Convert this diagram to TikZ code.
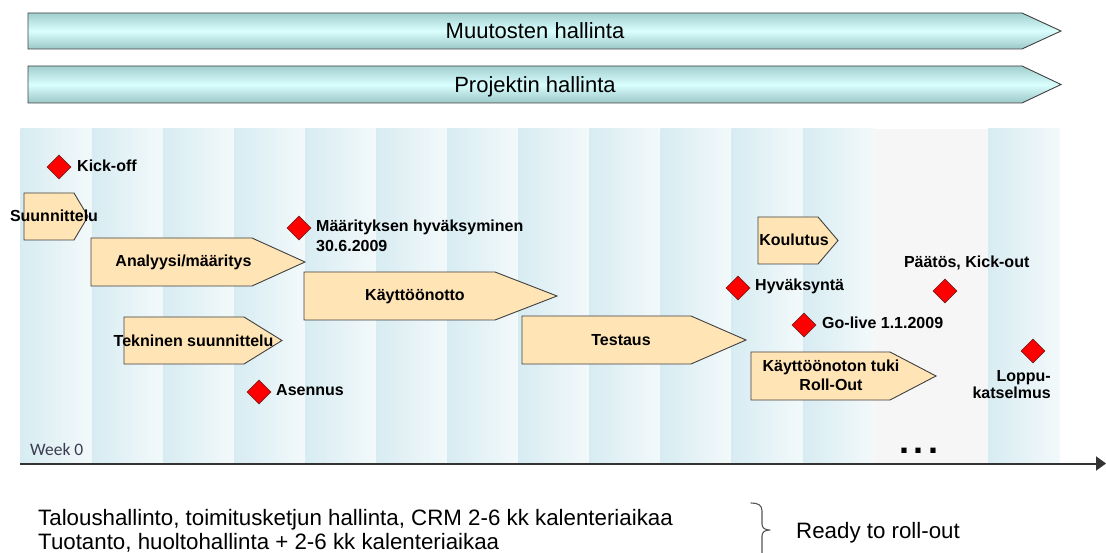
\documentclass[tikz,border=0pt]{standalone}
\usepackage{fontspec}
\setmainfont{Liberation Sans}
\newfontfamily\weekfont{Carlito}
\usetikzlibrary{arrows.meta,shapes.geometric}

\definecolor{phasefill}{HTML}{FFE4B5}
\definecolor{phaseline}{HTML}{404040}
\definecolor{stripeA}{HTML}{D7ECF2}
\definecolor{stripeB}{HTML}{F3F9FA}
\definecolor{lategray}{HTML}{F6F6F6}
\definecolor{bannerEdge}{HTML}{A2CFCF}
\definecolor{bannerLow}{HTML}{9CC8C8}
\definecolor{bannerMid}{HTML}{DAFEFE}
\definecolor{msred}{HTML}{FF0000}
\definecolor{msline}{HTML}{7A2020}
\definecolor{weekgray}{HTML}{3C3C50}
\definecolor{axisgray}{HTML}{333333}
\definecolor{bracegray}{HTML}{555555}

% phase arrow: left x, body end x, tip x, top y, bottom y
\newcommand\phasepath[5]{%
  \draw[phasebox] (#1,#4) -- (#2,#4) -- (#3,{(#4+#5)/2}) -- (#2,#5) -- (#1,#5) -- cycle;}

\begin{document}
\begin{tikzpicture}[x=1pt,y=-1pt,
  phasebox/.style={draw=phaseline, fill=phasefill, line width=0.9pt, line join=miter},
  banner/.style={draw=black!75, line width=0.9pt, top color=bannerEdge,
                 bottom color=bannerLow, middle color=bannerMid},
  stripe/.style={left color=stripeA, right color=stripeB},
  milestone/.style={diamond, aspect=1, minimum width=24pt, minimum height=24pt,
                    inner sep=0pt, fill=msred, draw=msline, line width=0.6pt},
  lbl/.style={font=\fontsize{16}{19}\selectfont\bfseries, inner sep=0pt},
  bigtxt/.style={font=\fontsize{22.3}{26}\selectfont, inner sep=0pt},
  bantxt/.style={font=\fontsize{22}{26}\selectfont, inner sep=0pt},
  axisline/.style={draw=axisgray, line width=2pt, -{Triangle[length=10pt,width=14pt]}},
  bracepath/.style={draw=bracegray, line width=1.1pt, line cap=round, line join=round}]

\useasboundingbox (0,0) rectangle (1106,553);

% management banners
\draw[banner] (28,13) -- (1022,13) -- (1061,31) -- (1022,49) -- (28,49) -- cycle;
\node[bantxt, anchor=base] (ban-muutos) at (535,39) {Muutosten hallinta};
\draw[banner] (28,66) -- (1022,66) -- (1061,84.5) -- (1022,103) -- (28,103) -- cycle;
\node[bantxt, anchor=base] (ban-projekti) at (535,92.5) {Projektin hallinta};

% week columns
\foreach \i in {0,...,11}
  \shade[stripe] ({20.7+71.1*\i},129) rectangle ({20.7+71.1*(\i+1)},463);
\fill[lategray] (873.9,129) rectangle (988,463);
\shade[stripe] (988,129) rectangle (1060,463);

% phases
\phasepath{24}{74}{88}{193}{240}
\node[lbl, anchor=base] (ph-suun) at (54,222) {Suunnittelu};
\phasepath{91}{252}{305}{238}{286}
\node[lbl, anchor=base] (ph-anal) at (183.5,266.3) {Analyysi/määritys};
\phasepath{124}{244}{282}{317}{364}
\node[lbl, anchor=base] (ph-tekn) at (193.6,346) {Tekninen suunnittelu};
\phasepath{304}{495}{557}{272}{320}
\node[lbl, anchor=base] (ph-kayt) at (415,300.5) {Käyttöönotto};
\phasepath{522}{691}{746}{316}{364}
\node[lbl, anchor=base] (ph-test) at (621,345) {Testaus};
\phasepath{758}{818}{838}{217}{264}
\node[lbl, anchor=base] (ph-koul) at (794,245.7) {Koulutus};
\phasepath{751}{890}{936}{352}{400}
\node[lbl, anchor=base] (ph-tuki1) at (831,371.7) {Käyttöönoton tuki};
\node[lbl, anchor=base] (ph-tuki2) at (831,390.7) {Roll-Out};

% milestones
\node[milestone] (ms-kick) at (59,167) {};
\node[lbl, anchor=base west] (ms-kick-l) at (77,171.5) {Kick-off};
\node[milestone] (ms-maar) at (299,228) {};
\node[lbl, anchor=base west] (ms-maar-l1) at (316,232) {Määrityksen hyväksyminen};
\node[lbl, anchor=base west] (ms-maar-l2) at (316,252) {30.6.2009};
\node[milestone] (ms-asen) at (259,392) {};
\node[lbl, anchor=base west] (ms-asen-l) at (276,395.7) {Asennus};
\node[milestone] (ms-hyva) at (738,288) {};
\node[lbl, anchor=base west] (ms-hyva-l) at (755,291) {Hyväksyntä};
\node[milestone] (ms-paat) at (945,291) {};
\node[lbl, anchor=base] (ms-paat-l) at (966.7,267.7) {Päätös, Kick-out};
\node[milestone] (ms-golive) at (804,325) {};
\node[lbl, anchor=base west] (ms-golive-l) at (822,329) {Go-live 1.1.2009};
\node[milestone] (ms-loppu) at (1033,351) {};
\node[lbl, anchor=base east] (ms-loppu-l1) at (1051,381.7) {Loppu-};
\node[lbl, anchor=base east] (ms-loppu-l2) at (1051,398.3) {katselmus};

% time axis
\node[font=\weekfont\fontsize{17.5}{20}\selectfont, text=weekgray, inner sep=0pt,
      anchor=base west] (week0) at (30,455) {Week 0};
\node[font=\fontsize{36}{36}\selectfont\bfseries, inner sep=0pt, anchor=base west]
      (more) at (898.9,453.5) {.\kern4.5pt.\kern4.5pt.};
\coordinate (axis-start) at (20,463.5);
\coordinate (axis-end) at (1106,463.5);
\draw[axisline] (axis-start) -- (axis-end);

% notes below the axis
\node[bigtxt, anchor=base west] (note1) at (38,525)
  {Taloushallinto, toimitusketjun hallinta, CRM 2-6 kk kalenteriaikaa};
\node[bigtxt, anchor=base west] (note2) at (38,549)
  {Tuotanto, huoltohallinta + 2-6 kk kalenteriaikaa};
\draw[bracepath] (751,503) .. controls (758,503) and (762,505) .. (762,511)
  -- (762,524) .. controls (762,528) and (765,530) .. (770,530)
  .. controls (765,530) and (762,532) .. (762,536) -- (762,556);
\node[bigtxt, anchor=base west] (ready) at (796,538.3) {Ready to roll-out};

\end{tikzpicture}
\end{document}
